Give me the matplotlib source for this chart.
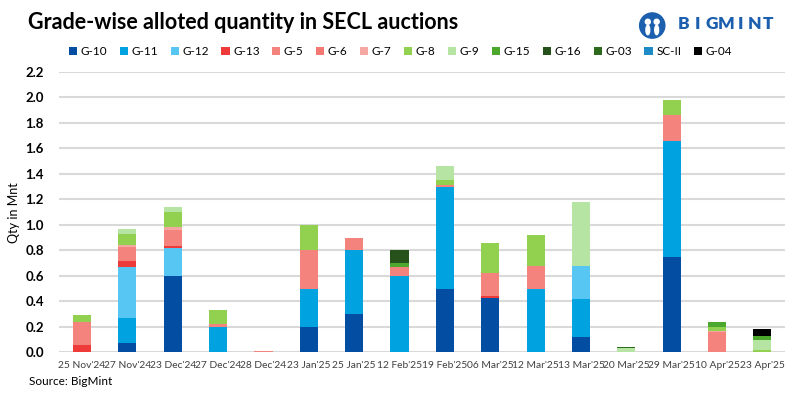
import matplotlib
matplotlib.use("Agg")
import matplotlib.pyplot as plt
import numpy as np
from matplotlib.patches import Circle, Ellipse

plt.rcParams['font.family'] = ['Lato', 'DejaVu Sans']

# Data
dates = ["25 Nov'24", "27 Nov'24", "23 Dec'24", "27 Dec'24", "28 Dec'24", "23 Jan'25",
         "25 Jan'25", "12 Feb'25", "19 Feb'25", "06 Mar'25", "12 Mar'25", "13 Mar'25",
         "20 Mar'25", "29 Mar'25", "10 Apr'25", "23 Apr'25"]

grades = ["G-10", "G-11", "G-12", "G-13", "G-5", "G-6", "G-7", "G-8", "G-9",
          "G-15", "G-16", "G-03", "SC-II", "G-04"]

g10 = [0, 0.07, 0.60, 0, 0, 0.20, 0.30, 0, 0.50, 0.43, 0, 0.12, 0, 0.75, 0, 0]
g11 = [0, 0.20, 0, 0.20, 0, 0.30, 0.50, 0.60, 0.80, 0, 0.50, 0.30, 0, 0.91, 0, 0]
g12 = [0, 0.40, 0.22, 0, 0, 0, 0, 0, 0, 0, 0, 0.26, 0, 0, 0, 0]
g13 = [0.06, 0.05, 0.015, 0, 0, 0, 0, 0, 0, 0.01, 0, 0, 0, 0, 0, 0]
g5 = [0.18, 0.11, 0.125, 0.02, 0.008, 0.30, 0.10, 0.07, 0.01, 0.18, 0.18, 0, 0, 0.20, 0.16, 0.005]
g6 = [0] * 16
g7 = [0, 0.01, 0.02, 0, 0, 0, 0, 0, 0, 0, 0, 0, 0, 0, 0.01, 0]
g8 = [0.05, 0.09, 0.12, 0.11, 0.004, 0.20, 0, 0, 0.04, 0.24, 0.24, 0, 0, 0.12, 0.03, 0.015]
g9 = [0.005, 0.035, 0.04, 0, 0, 0, 0, 0, 0.11, 0, 0, 0.50, 0.03, 0, 0, 0.075]
g15 = [0, 0, 0, 0, 0, 0, 0, 0.03, 0, 0, 0, 0, 0, 0, 0.04, 0.03]
g16 = [0, 0, 0, 0, 0, 0, 0, 0.10, 0, 0, 0, 0, 0, 0, 0, 0]
g03 = [0, 0, 0, 0, 0, 0, 0, 0, 0, 0, 0, 0, 0.012, 0, 0, 0]
sc2 = [0] * 16
g04 = [0, 0, 0, 0, 0, 0, 0, 0, 0, 0, 0, 0, 0, 0, 0, 0.06]

series = [g10, g11, g12, g13, g5, g6, g7, g8, g9, g15, g16, g03, sc2, g04]
colors = ["#034EA2", "#00A2E0", "#58C6F2", "#EE3B39", "#F4837D", "#F27A72", "#F5A8A2",
          "#92D050", "#B6E5A3", "#4CA82C", "#26511A", "#2E6A1E", "#1F8BC6", "#000000"]

fig = plt.figure(figsize=(7.93, 3.93), dpi=100)
ax = fig.add_axes([0.0748, 0.1036, 0.9152, 0.7132])

x = np.arange(len(dates))
bottom = np.zeros(len(dates))
for name, vals, col in zip(grades, series, colors):
    ax.bar(x, vals, 0.4, bottom=bottom, color=col, label=name, zorder=3)
    bottom += np.array(vals)

ax.set_xlim(-0.5, len(dates) - 0.5)
ax.set_ylim(0, 2.2)
ax.set_yticks(np.arange(0, 2.21, 0.2))
ax.set_yticklabels([f"{v:.1f}" for v in np.arange(0, 2.21, 0.2)], fontweight='bold', fontsize=9.5)
ax.set_xticks(x)
ax.set_xticklabels(dates, fontsize=7.4, color="#404040")
ax.tick_params(axis='both', length=0)
ax.tick_params(axis='x', pad=6)
ax.tick_params(axis='y', pad=11)
ax.grid(axis='y', color="#D9D9D9", linewidth=1.5, zorder=0)
for s in ax.spines.values():
    s.set_visible(False)
ax.set_ylabel("Qty in Mnt", fontsize=9, labelpad=4)

fig.text(0.035, 0.944, "Grade-wise alloted quantity in SECL auctions",
         fontsize=15.5, fontweight='bold', va='center', ha='left')

fig.legend(loc='center', bbox_to_anchor=(0.505, 0.868), ncol=14, frameon=False,
           fontsize=8.5, handlelength=0.7, handleheight=0.7, handletextpad=0.3,
           columnspacing=1.05)

# logo
logo_blue = "#1B5FAE"
lax = fig.add_axes([0.805, 0.89, 0.035, 0.09])
lax.set_xlim(-1.1, 1.1)
lax.set_ylim(-1.1, 1.1)
lax.set_aspect('equal')
lax.axis('off')
lax.add_patch(Circle((0, 0), 1.0, color=logo_blue))
lax.add_patch(Circle((-0.35, 0.3), 0.2, color='white'))
lax.add_patch(Circle((0.35, 0.3), 0.2, color='white'))
lax.add_patch(Ellipse((-0.35, -0.35), 0.3, 0.75, color='white'))
lax.add_patch(Ellipse((0.35, -0.35), 0.3, 0.75, color='white'))
for i, ch in enumerate("BIGMINT"):
    fig.text(0.862 + i * 0.0178, 0.938, ch, fontsize=12.5, fontweight='heavy',
             color=logo_blue, ha='center', va='center')

fig.text(0.037, 0.028, "Source: BigMint", fontsize=8.5, ha='left', va='center')

fig.savefig("out.png", dpi=100)
